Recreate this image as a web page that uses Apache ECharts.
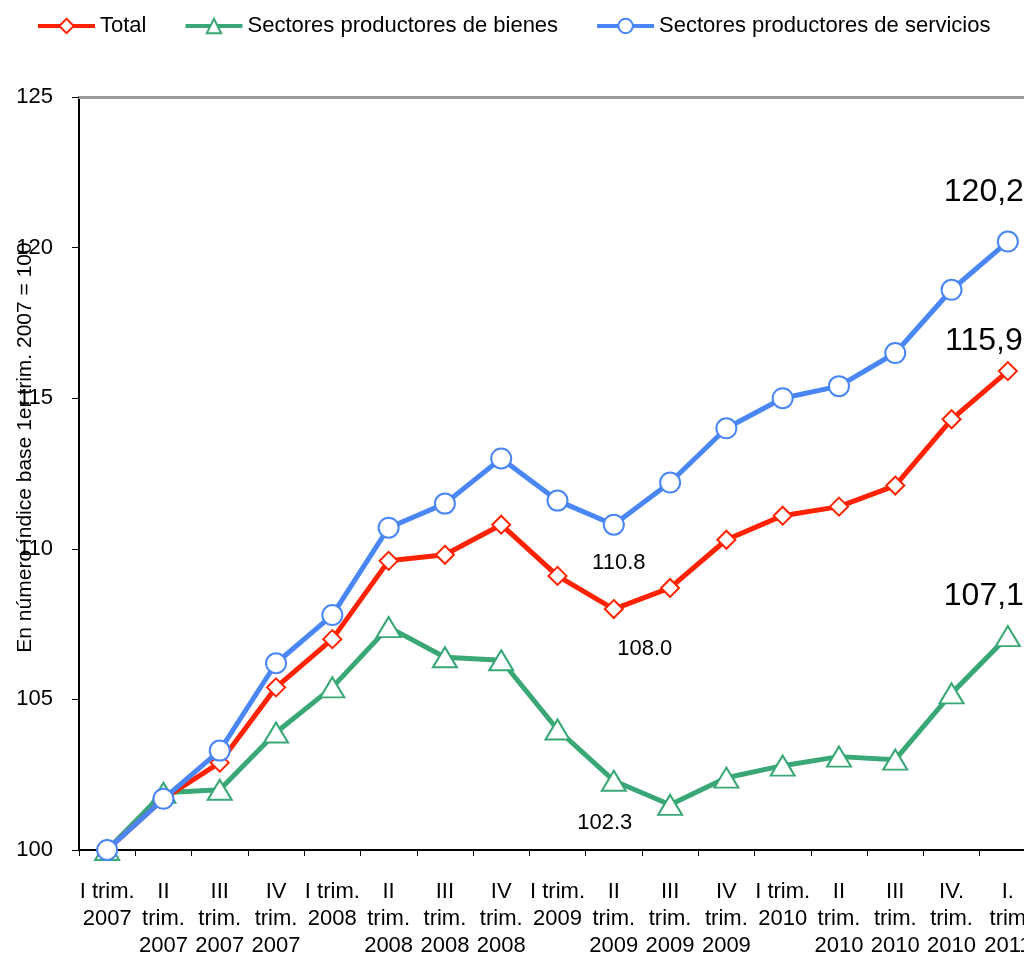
<!DOCTYPE html>
<html>
<head>
<meta charset="utf-8">
<script src="https://cdn.jsdelivr.net/npm/echarts@6/dist/echarts.min.js"></script>
<style>
html,body{margin:0;padding:0;background:#fff;}
#chart{width:1024px;height:953px;}
</style>
</head>
<body>
<div id="chart"></div>
<script>
var categories = [
  "I trim.\n2007", "II\ntrim.\n2007", "III\ntrim.\n2007", "IV\ntrim.\n2007",
  "I trim.\n2008", "II\ntrim.\n2008", "III\ntrim.\n2008", "IV\ntrim.\n2008",
  "I trim.\n2009", "II\ntrim.\n2009", "III\ntrim.\n2009", "IV\ntrim.\n2009",
  "I trim.\n2010", "II\ntrim.\n2010", "III\ntrim.\n2010", "IV.\ntrim.\n2010",
  "I.\ntrim\n2011"
];
var totalValues = [100, 101.7, 102.9, 105.4, 107.0, 109.6, 109.8, 110.8, 109.1, 108.0, 108.7, 110.3, 111.1, 111.4, 112.1, 114.3, 115.9];
var bienesValues = [100, 101.9, 102.0, 103.9, 105.4, 107.4, 106.4, 106.3, 104.0, 102.3, 101.5, 102.4, 102.8, 103.1, 103.0, 105.2, 107.1];
var serviciosValues = [100, 101.7, 103.3, 106.2, 107.8, 110.7, 111.5, 113.0, 111.6, 110.8, 112.2, 114.0, 115.0, 115.4, 116.5, 118.6, 120.2];
var yTicks = [100, 105, 110, 115, 120, 125];
var seriesNames = ["Total", "Sectores productores de bienes", "Sectores productores de servicios"];

var FONT = "'Liberation Sans', Arial, sans-serif";

function withLabels(values, specs) {
  return values.map(function (v, i) {
    if (specs[i]) {
      return {
        value: v,
        label: {
          show: true,
          position: 'inside',
          offset: specs[i].offset,
          fontSize: specs[i].size,
          color: '#000',
          fontFamily: FONT,
          formatter: specs[i].text
        }
      };
    }
    return v;
  });
}

var last = totalValues.length - 1;
var totalSpecs = {}; totalSpecs[9] = {offset: [31, 40], size: 22, text: totalValues[9].toFixed(1)};
totalSpecs[last] = {offset: [-24, -30], size: 32, text: totalValues[last].toFixed(1).replace('.', ',')};
var bienesSpecs = {}; bienesSpecs[9] = {offset: [-9, 42], size: 22, text: bienesValues[9].toFixed(1)};
bienesSpecs[last] = {offset: [-24, -40], size: 32, text: bienesValues[last].toFixed(1).replace('.', ',')};
var serviciosSpecs = {}; serviciosSpecs[9] = {offset: [5, 38], size: 22, text: serviciosValues[9].toFixed(1)};
serviciosSpecs[last] = {offset: [-24, -49], size: 32, text: serviciosValues[last].toFixed(1).replace('.', ',')};

var chart = echarts.init(document.getElementById('chart'), null, {renderer: 'canvas'});
chart.setOption({
  animation: false,
  backgroundColor: '#fff',
  textStyle: {fontFamily: FONT},
  legend: {
    left: 31, top: 10,
    itemWidth: 57, itemHeight: 18, itemGap: 37,
    lineStyle: {width: 4},
    textStyle: {fontSize: 22, color: '#000', fontFamily: FONT},
    data: seriesNames
  },
  grid: {left: 79, top: 97, right: -12, bottom: 103, containLabel: false, outerBoundsMode: 'none'},
  xAxis: [{
    type: 'category',
    data: categories,
    boundaryGap: true,
    axisLine: {lineStyle: {color: '#000', width: 2}},
    axisTick: {show: true, length: 6, inside: false, lineStyle: {color: '#000', width: 1}},
    axisLabel: {interval: 0, fontSize: 22, lineHeight: 27, color: '#000', margin: 28, fontFamily: FONT}
  }, {
    type: 'category',
    position: 'top',
    data: categories,
    axisLine: {show: true, lineStyle: {color: '#999', width: 3}},
    axisTick: {show: false},
    axisLabel: {show: false}
  }],
  yAxis: {
    type: 'value',
    min: yTicks[0], max: yTicks[yTicks.length - 1], interval: 5,
    name: 'En número índice base 1er trim. 2007 = 100',
    nameLocation: 'middle',
    nameGap: 43,
    nameMoveOverlap: false,
    nameTextStyle: {fontSize: 21, color: '#000', fontFamily: FONT, padding: [0, 0, 0, 52]},
    axisLine: {show: true, lineStyle: {color: '#000', width: 2}},
    axisTick: {show: true, length: 7, lineStyle: {color: '#000'}},
    axisLabel: {fontSize: 22, color: '#000', margin: 26, fontFamily: FONT},
    splitLine: {show: false}
  },
  series: [{
    name: seriesNames[0],
    type: 'line',
    data: withLabels(totalValues, totalSpecs),
    symbol: 'diamond', symbolSize: 18,
    lineStyle: {color: '#ff2200', width: 5},
    itemStyle: {color: '#fff', borderColor: '#ff2200', borderWidth: 2},
    color: '#ff2200',
    z: 3
  }, {
    name: seriesNames[1],
    type: 'line',
    data: withLabels(bienesValues, bienesSpecs),
    symbol: 'triangle', symbolSize: [24, 20],
    lineStyle: {color: '#3aa876', width: 5},
    itemStyle: {color: '#fff', borderColor: '#3aa876', borderWidth: 2},
    color: '#3aa876',
    z: 2
  }, {
    name: seriesNames[2],
    type: 'line',
    data: withLabels(serviciosValues, serviciosSpecs),
    symbol: 'circle', symbolSize: 20,
    lineStyle: {color: '#4a86f5', width: 5},
    itemStyle: {color: '#fff', borderColor: '#4a86f5', borderWidth: 2},
    color: '#4a86f5',
    z: 4
  }]
});
</script>
</body>
</html>
